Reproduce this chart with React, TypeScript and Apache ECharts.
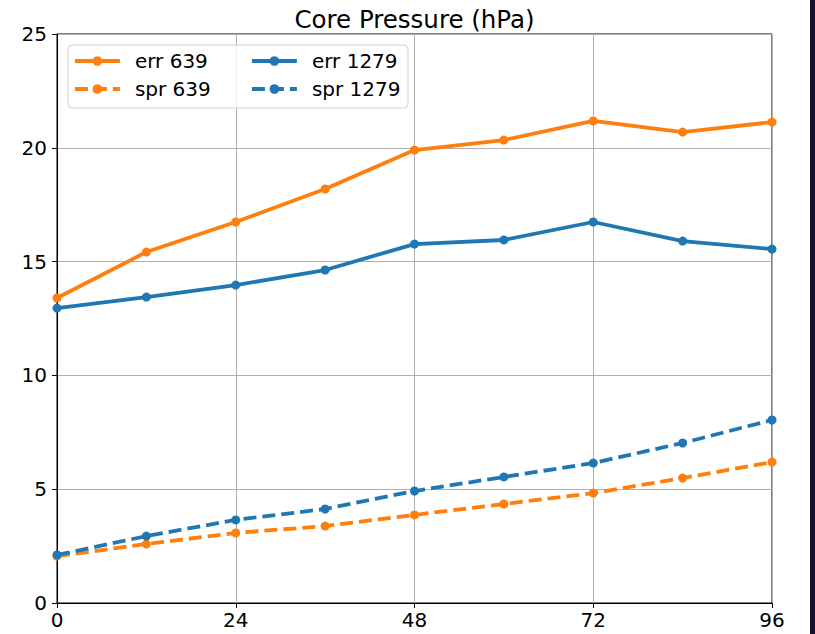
import React, { useEffect, useRef } from "react";
import * as echarts from "echarts";

const hours = [0, 12, 24, 36, 48, 60, 72, 84, 96];
const err639 = [13.4, 15.42, 16.74, 18.19, 19.9, 20.34, 21.18, 20.69, 21.13];
const err1279 = [12.96, 13.44, 13.97, 14.63, 15.77, 15.95, 16.74, 15.9, 15.55];
const spr639 = [2.06, 2.59, 3.08, 3.38, 3.87, 4.35, 4.83, 5.49, 6.19];
const spr1279 = [2.11, 2.94, 3.65, 4.13, 4.92, 5.54, 6.15, 7.03, 8.04];
const xTicks = [0, 24, 48, 72, 96];
const yTicks = [0, 5, 10, 15, 20, 25];
const titleText = "Core Pressure (hPa)";

const ORANGE = "#ff7f0e";
const BLUE = "#1f77b4";
const FONT = "DejaVu Sans";

function pairs(vals: number[]) {
  return hours.map((h, i) => [h, vals[i]]);
}

function mkSeries(name: string, vals: number[], color: string, dashed: boolean) {
  return {
    name,
    type: "line",
    data: pairs(vals),
    symbol: "circle",
    symbolSize: 9,
    clip: true,
    color,
    lineStyle: { width: 3.8, color, type: dashed ? [13, 6] : "solid" },
    itemStyle: { color },
    z: 3,
  };
}

export default function App() {
  const ref = useRef<HTMLDivElement>(null);
  useEffect(() => {
    if (!ref.current) return;
    const chart = echarts.init(ref.current, null, { renderer: "svg" });
    const legendCommon = {
      orient: "vertical",
      itemWidth: 45,
      itemHeight: 12,
      itemGap: 6,
      padding: 0,
      lineStyle: { width: 3.8 },
      textStyle: {
        fontFamily: FONT,
        fontSize: 20,
        color: "#000",
        lineHeight: 22,
        padding: [0, 0, 0, 10],
      },
    };
    chart.setOption({
      animation: false,
      backgroundColor: "#fff",
      textStyle: { fontFamily: FONT },
      grid: {
        left: 57,
        right: 43,
        top: 34,
        bottom: 31,
        show: true,
        borderColor: "#000",
        borderWidth: 1,
        backgroundColor: "transparent",
      },
      xAxis: {
        type: "value",
        min: xTicks[0],
        max: xTicks[xTicks.length - 1],
        interval: 24,
        axisLine: { show: true, onZero: false, lineStyle: { color: "#000", width: 1 } },
        axisTick: { show: true, length: 5, lineStyle: { color: "#000" } },
        axisLabel: { fontSize: 20, color: "#000", margin: 7, fontFamily: FONT },
        splitLine: { show: true, lineStyle: { color: "#b0b0b0", width: 1 } },
      },
      yAxis: {
        type: "value",
        min: yTicks[0],
        max: yTicks[yTicks.length - 1],
        interval: 5,
        axisLine: { show: true, onZero: false, lineStyle: { color: "#000", width: 1 } },
        axisTick: { show: true, length: 5, lineStyle: { color: "#000" } },
        axisLabel: { fontSize: 20, color: "#000", margin: 10, fontFamily: FONT },
        splitLine: { show: true, lineStyle: { color: "#b0b0b0", width: 1 } },
      },
      legend: [
        { ...legendCommon, left: 73, top: 50, data: ["err 639", "spr 639"] },
        { ...legendCommon, left: 250, top: 50, data: ["err 1279", "spr 1279"] },
      ],
      graphic: [
        {
          type: "rect",
          z: 1,
          shape: { x: 68, y: 45, width: 340, height: 63, r: 4 },
          style: { fill: "rgba(255,255,255,0.8)", stroke: "#d0d0d0", lineWidth: 1 },
        },
        {
          type: "text",
          x: 414.5,
          y: 19,
          style: {
            text: titleText,
            fontFamily: FONT,
            fontSize: 24.5,
            fill: "#000",
            textAlign: "center",
            textVerticalAlign: "middle",
          },
        },
        {
          type: "rect",
          shape: { x: 810, y: 0, width: 5, height: 634 },
          style: { fill: "#12122a" },
        },
      ],
      series: [
        mkSeries("err 639", err639, ORANGE, false),
        mkSeries("spr 639", spr639, ORANGE, true),
        mkSeries("err 1279", err1279, BLUE, false),
        mkSeries("spr 1279", spr1279, BLUE, true),
      ],
    });
    return () => chart.dispose();
  }, []);
  return (
    <div style={{ position: "fixed", left: 0, top: 0, width: 815, height: 634 }}>
      <div ref={ref} style={{ width: 815, height: 634 }} />
    </div>
  );
}
